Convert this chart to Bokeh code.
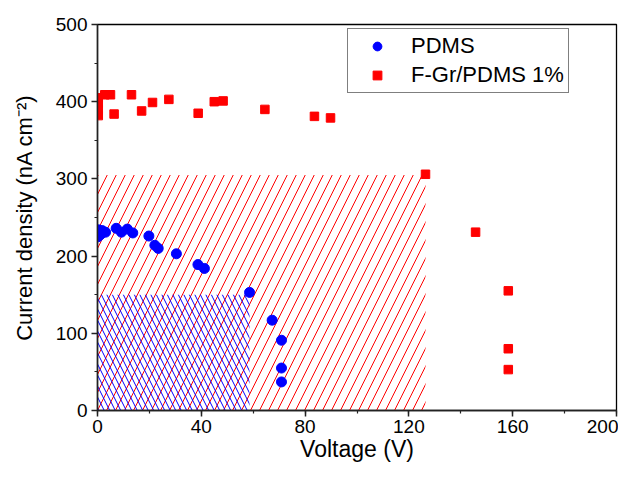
from bokeh.plotting import figure
from bokeh.models import Range1d, SingleIntervalTicker, Legend, LegendItem
from bokeh.embed import file_html
from bokeh.resources import INLINE

# ---- data ----
PDMS_V = [0.2, 0.4, 1.2, 1.8, 3.1, 7.2, 9.2, 11.5, 13.6, 19.8, 22.1, 23.4,
          30.4, 38.7, 41.2, 58.6, 67.3, 70.9, 70.9, 70.9]
PDMS_J = [225, 234, 228, 233, 231, 236, 231, 235, 230, 226, 214, 210,
          203, 189, 184, 153, 117, 91, 55, 37]

FGR_V = [0.3, 0.3, 0.3, 0.3, 2.8, 5.0, 6.4, 13.1, 17.0, 21.2, 27.5, 38.8,
         45.0, 48.4, 64.5, 83.6, 89.8, 126.4, 145.7, 158.3, 158.3, 158.3]
FGR_J = [382, 390, 398, 405, 409, 409, 384, 409, 388, 399, 403, 385,
         400, 401, 390, 381, 379, 306, 231, 155, 80, 53]

# hatched working regions (breakdown voltage, max current density)
PDMS_REGION = (58.6, 150)
FGR_REGION = (126.4, 305)

SERIES_NAMES = ["PDMS", "F-Gr/PDMS 1%"]

FONT = "Liberation Sans"

p = figure(width=618, height=466, output_backend="svg", toolbar_location=None,
           x_range=Range1d(0, 200), y_range=Range1d(0, 500),
           min_border_left=97, min_border_right=2, min_border_top=24,
           min_border_bottom=56)
p.xgrid.visible = False
p.ygrid.visible = False
p.outline_line_color = "black"
p.outline_line_width = 1.3
p.outline_line_alpha = 1.0

# hatched areas
p.quad(left=0, right=FGR_REGION[0], bottom=0, top=FGR_REGION[1],
       fill_alpha=0, line_alpha=0, hatch_pattern="/", hatch_color="#ff0000",
       hatch_scale=18, hatch_weight=1)
p.quad(left=0, right=PDMS_REGION[0], bottom=0, top=PDMS_REGION[1],
       fill_alpha=0, line_alpha=0, hatch_pattern="\\", hatch_color="#0000ff",
       hatch_scale=11, hatch_weight=1)

r_pdms = p.scatter(PDMS_V, PDMS_J, marker="circle", size=10,
                   fill_color="#0000ff", line_color="#0000ff")
r_fgr = p.scatter(FGR_V, FGR_J, marker="square", size=8.5,
                  fill_color="#ff0000", line_color="#ff0000")

# axes
p.xaxis.ticker = SingleIntervalTicker(interval=40, num_minor_ticks=2)
p.yaxis.ticker = SingleIntervalTicker(interval=100, num_minor_ticks=2)
p.xaxis.axis_label = "Voltage (V)"
p.yaxis.axis_label = "Current density (nA cm\u207b\u00b2)"
for ax in (p.xaxis[0], p.yaxis[0]):
    ax.axis_line_width = 1.5
    ax.axis_line_color = "#222222"
    ax.major_tick_line_width = 1.5
    ax.minor_tick_line_width = 1.2
    ax.major_tick_line_color = "#222222"
    ax.minor_tick_line_color = "#222222"
    ax.major_tick_out = 6
    ax.major_tick_in = 0
    ax.minor_tick_out = 3
    ax.minor_tick_in = 0
    ax.major_label_text_font = FONT
    ax.major_label_text_font_size = "19px"
    ax.major_label_text_color = "black"
    ax.axis_label_text_font = FONT
    ax.axis_label_text_font_style = "normal"
    ax.axis_label_text_color = "black"
p.xaxis.axis_label_text_font_size = "23px"
p.yaxis.axis_label_text_font_size = "22px"
p.xaxis.axis_label_standoff = 0
p.yaxis.axis_label_standoff = 16
p.xaxis.major_label_standoff = 3
p.yaxis.major_label_standoff = 4

legend = Legend(items=[LegendItem(label=SERIES_NAMES[0], renderers=[r_pdms]),
                       LegendItem(label=SERIES_NAMES[1], renderers=[r_fgr])],
                location=(250, 317))
legend.border_line_color = "black"
legend.border_line_width = 1
legend.background_fill_alpha = 1
legend.padding = 4
legend.spacing = 3
legend.margin = 0
legend.glyph_width = 50
legend.glyph_height = 22
legend.label_height = 22
legend.label_standoff = 9
legend.label_text_font = FONT
legend.label_text_font_size = "22px"
legend.label_text_color = "black"
p.add_layout(legend)

open("out.html", "w").write(file_html(p, INLINE))
